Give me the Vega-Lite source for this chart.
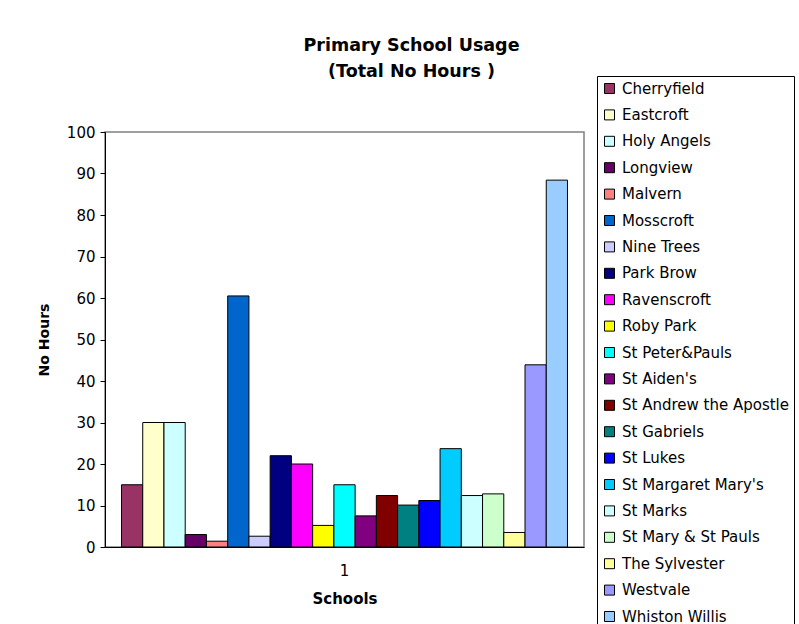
{
  "$schema": "https://vega.github.io/schema/vega-lite/v6.json",
  "width": 479,
  "height": 415,
  "autosize": {"type": "none"},
  "padding": {"left": 105, "top": 132, "right": 215, "bottom": 77},
  "background": "white",
  "config": {
    "font": "DejaVu Sans",
    "view": {"stroke": "#808080", "strokeWidth": 1.5}
  },
  "title": {
    "text": ["Primary School Usage", "(Total No Hours )"],
    "fontSize": 17.5,
    "fontWeight": "bold",
    "font": "DejaVu Sans",
    "color": "black",
    "anchor": "middle",
    "frame": "group",
    "dx": 67,
    "offset": -5,
    "lineHeight": 26
  },
  "data": {
    "values": [
      {"series": "1", "school": "Cherryfield", "hours": 15},
      {"series": "1", "school": "Eastcroft", "hours": 30},
      {"series": "1", "school": "Holy Angels", "hours": 30},
      {"series": "1", "school": "Longview", "hours": 3},
      {"series": "1", "school": "Malvern", "hours": 1.4},
      {"series": "1", "school": "Mosscroft", "hours": 60.5},
      {"series": "1", "school": "Nine Trees", "hours": 2.6},
      {"series": "1", "school": "Park Brow", "hours": 22},
      {"series": "1", "school": "Ravenscroft", "hours": 20},
      {"series": "1", "school": "Roby Park", "hours": 5.2},
      {"series": "1", "school": "St Peter&Pauls", "hours": 15},
      {"series": "1", "school": "St Aiden's", "hours": 7.5},
      {"series": "1", "school": "St Andrew the Apostle", "hours": 12.4},
      {"series": "1", "school": "St Gabriels", "hours": 10.1},
      {"series": "1", "school": "St Lukes", "hours": 11.2},
      {"series": "1", "school": "St Margaret Mary's", "hours": 23.7},
      {"series": "1", "school": "St Marks", "hours": 12.4},
      {"series": "1", "school": "St Mary & St Pauls", "hours": 12.8},
      {"series": "1", "school": "The Sylvester", "hours": 3.5},
      {"series": "1", "school": "Westvale", "hours": 43.9},
      {"series": "1", "school": "Whiston Willis", "hours": 88.4}
    ]
  },
  "mark": {"type": "bar", "stroke": "black", "strokeWidth": 1},
  "encoding": {
    "x": {
      "field": "series",
      "type": "nominal",
      "scale": {"paddingInner": 0, "paddingOuter": 0.037},
      "axis": {
        "title": "Schools",
        "labelAngle": 0,
        "labelFontSize": 15,
        "labelColor": "black",
        "titleFontSize": 15,
        "titleFontWeight": "bold",
        "titleColor": "black",
        "ticks": false,
        "domainColor": "black",
        "domainWidth": 1,
        "labelPadding": 16,
        "titlePadding": 13
      }
    },
    "xOffset": {
      "field": "school",
      "type": "nominal",
      "sort": null,
      "scale": {"paddingInner": 0, "paddingOuter": 0}
    },
    "y": {
      "field": "hours",
      "type": "quantitative",
      "scale": {"domain": [0, 100], "nice": false},
      "axis": {
        "title": "No Hours",
        "values": [0, 10, 20, 30, 40, 50, 60, 70, 80, 90, 100],
        "grid": false,
        "tickSize": 5,
        "tickColor": "black",
        "domainColor": "black",
        "labelFontSize": 15,
        "labelColor": "black",
        "labelPadding": 5,
        "titleFontSize": 14,
        "titleFontWeight": "bold",
        "titleColor": "black",
        "titlePadding": 15
      }
    },
    "color": {
      "field": "school",
      "type": "nominal",
      "sort": null,
      "scale": {
        "domain": ["Cherryfield", "Eastcroft", "Holy Angels", "Longview", "Malvern", "Mosscroft", "Nine Trees", "Park Brow", "Ravenscroft", "Roby Park", "St Peter&Pauls", "St Aiden's", "St Andrew the Apostle", "St Gabriels", "St Lukes", "St Margaret Mary's", "St Marks", "St Mary & St Pauls", "The Sylvester", "Westvale", "Whiston Willis"],
        "range": ["#993366", "#FFFFCC", "#CCFFFF", "#660066", "#FF8080", "#0066CC", "#CCCCFF", "#000080", "#FF00FF", "#FFFF00", "#00FFFF", "#800080", "#800000", "#008080", "#0000FF", "#00CCFF", "#CCFFFF", "#CCFFCC", "#FFFF99", "#9999FF", "#99CCFF"]
      },
      "legend": {
        "title": null,
        "orient": "none",
        "legendX": 492,
        "legendY": -56,
        "strokeColor": "black",
        "fillColor": "white",
        "padding": 5,
        "labelFontSize": 15,
        "labelColor": "black",
        "labelLimit": 300,
        "labelOffset": 5,
        "symbolType": "square",
        "symbolSize": 100,
        "symbolStrokeColor": "black",
        "symbolStrokeWidth": 1,
        "symbolOpacity": 1,
        "rowPadding": 10.4
      }
    }
  }
}
